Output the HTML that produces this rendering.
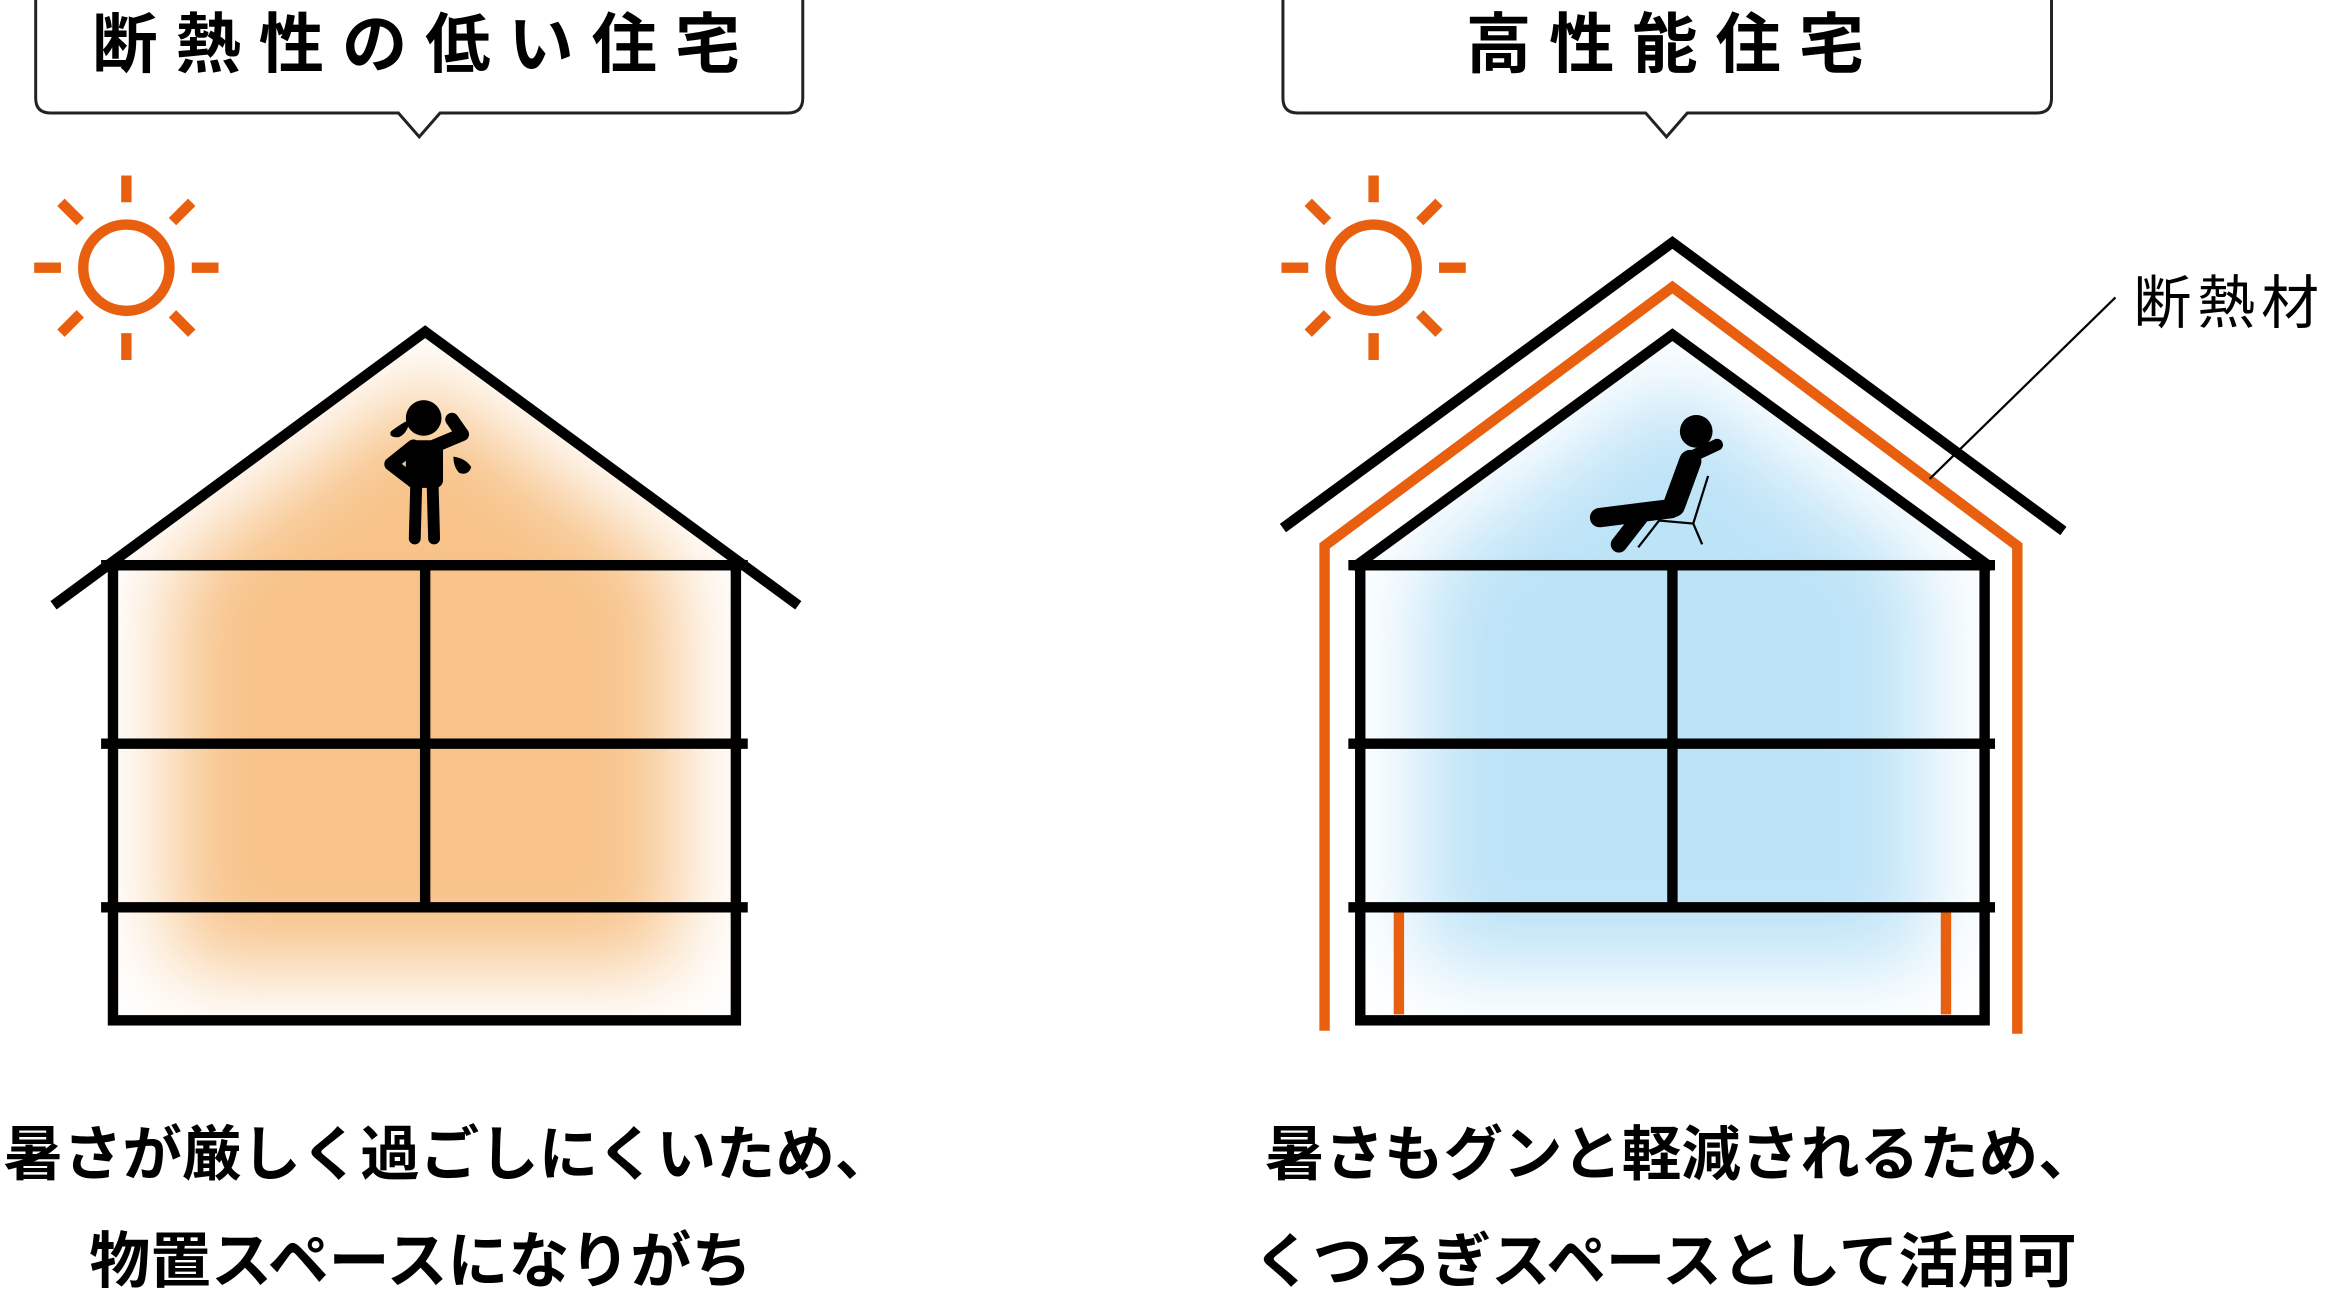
<!DOCTYPE html>
<html><head><meta charset="utf-8"><style>
html,body{margin:0;padding:0;background:#fff;}
svg{display:block}
text{font-family:"Liberation Sans","Noto Sans CJK JP",sans-serif;}
</style></head><body>
<svg width="2331" height="1294" viewBox="0 0 1568 870" preserveAspectRatio="none" xmlns="http://www.w3.org/2000/svg">
<defs>
<filter id="bl" x="-30%" y="-30%" width="160%" height="160%"><feGaussianBlur stdDeviation="28"/></filter>
<clipPath id="cl"><path d="M76,380 L286,226 L495,380 V686 H76 Z"/></clipPath>
<clipPath id="cr"><path d="M915,380 L1125,228 L1335,380 V686 H915 Z"/></clipPath>
</defs>
<!-- headers -->
<path d="M24,0 V66 q0,10 10,10 H268 l14,16 l14,-16 H530 q10,0 10,-10 V0" fill="none" stroke="#222" stroke-width="2"/>
<text x="286" y="45" font-size="44" font-weight="bold" text-anchor="middle" letter-spacing="12">断熱性の低い住宅</text>
<path d="M863,0 V66 q0,10 10,10 H1107 l14,16 l14,-16 H1370 q10,0 10,-10 V0" fill="none" stroke="#222" stroke-width="2"/>
<text x="1126" y="45" font-size="44" font-weight="bold" text-anchor="middle" letter-spacing="12">高性能住宅</text>

<!-- suns -->
<g id="sun" stroke="#e8600f" stroke-width="7" fill="none">
<circle cx="85" cy="180" r="29"/>
<line x1="85" y1="118" x2="85" y2="136"/><line x1="85" y1="224" x2="85" y2="242"/>
<line x1="23" y1="180" x2="41" y2="180"/><line x1="129" y1="180" x2="147" y2="180"/>
<line x1="41" y1="136" x2="54" y2="149"/><line x1="116" y1="211" x2="129" y2="224"/>
<line x1="129" y1="136" x2="116" y2="149"/><line x1="54" y1="211" x2="41" y2="224"/>
</g>
<use href="#sun" x="839"/>

<!-- left house -->
<g clip-path="url(#cl)">
<path d="M115,380 L286,255 L455,380 V650 H115 Z" fill="#f7c389" filter="url(#bl)"/>
</g>
<g stroke="#000" stroke-width="7" fill="none">
<polyline points="36,407 286,223 537,407"/>
<rect x="76" y="380" width="419" height="306"/>
<line x1="68" y1="380" x2="503" y2="380"/>
<line x1="68" y1="500" x2="503" y2="500"/>
<line x1="68" y1="610" x2="503" y2="610"/>
<line x1="286" y1="380" x2="286" y2="610"/>
</g>
<!-- sweating person -->
<g fill="#000">
<circle cx="285" cy="281" r="12"/>
<rect x="273" y="296" width="25" height="32" rx="5"/>
<path d="M263,290 q8,-6 13,-8 q-2,10 -8,12 q-7,0 -5,-4z"/>
<path d="M305,307 q8,1 12,7 q-2,6 -8,4 q-4,-4 -4,-11z"/>
</g>
<g stroke="#000" stroke-linecap="round" stroke-linejoin="round" fill="none">
<polyline points="292,300 311,292 304,282" stroke-width="9"/>
<polyline points="278,300 263,312 276,322" stroke-width="9"/>
<line x1="280" y1="325" x2="279" y2="362" stroke-width="8"/>
<line x1="291" y1="325" x2="292" y2="362" stroke-width="8"/>
</g>

<!-- right house -->
<g clip-path="url(#cr)">
<path d="M955,380 L1125,255 L1295,380 V650 H955 Z" fill="#bde3f7" filter="url(#bl)"/>
</g>
<g stroke="#e8600f" stroke-width="7" fill="none">
<polyline points="891,693 891,367 1125,193 1357,367 1357,695"/>
<line x1="941" y1="613" x2="941" y2="682"/>
<line x1="1309" y1="613" x2="1309" y2="682"/>
</g>
<g stroke="#000" stroke-width="7" fill="none">
<polyline points="863,355 1125,163 1388,357"/>
<polyline points="910,382 1125,225 1340,382"/>
<rect x="915" y="380" width="420" height="306"/>
<line x1="907" y1="380" x2="1342" y2="380"/>
<line x1="907" y1="500" x2="1342" y2="500"/>
<line x1="907" y1="610" x2="1342" y2="610"/>
<line x1="1125" y1="380" x2="1125" y2="610"/>
</g>
<!-- relaxing person -->
<circle cx="1141" cy="290" r="11" fill="#000"/>
<g stroke="#000" stroke-linecap="round" stroke-linejoin="round" fill="none">
<line x1="1137" y1="310" x2="1126" y2="340" stroke-width="15"/>
<polyline points="1140,306 1155,299" stroke-width="8"/>
<line x1="1124" y1="342" x2="1076" y2="348" stroke-width="13"/>
<line x1="1103" y1="348" x2="1089" y2="366" stroke-width="11"/>
</g>
<g stroke="#000" stroke-width="1.5" fill="none">
<polyline points="1149,320 1139,352 1116,350 1102,368"/>
<line x1="1139" y1="352" x2="1145" y2="366"/>
</g>

<!-- label -->
<line x1="1423" y1="200" x2="1298" y2="322" stroke="#000" stroke-width="1.5"/>
<text x="1435" y="217" font-size="39" letter-spacing="4">断熱材</text>

<!-- captions -->
<g font-size="40" font-weight="bold" text-anchor="middle">
<text x="302" y="790">暑さが厳しく過ごしにくいため、</text>
<text x="283" y="862" font-size="41">物置スペースになりがち</text>
<text x="1131" y="790">暑さもグンと軽減されるため、</text>
<text x="1120" y="862">くつろぎスペースとして活用可</text>
</g>
</svg>
</body></html>
